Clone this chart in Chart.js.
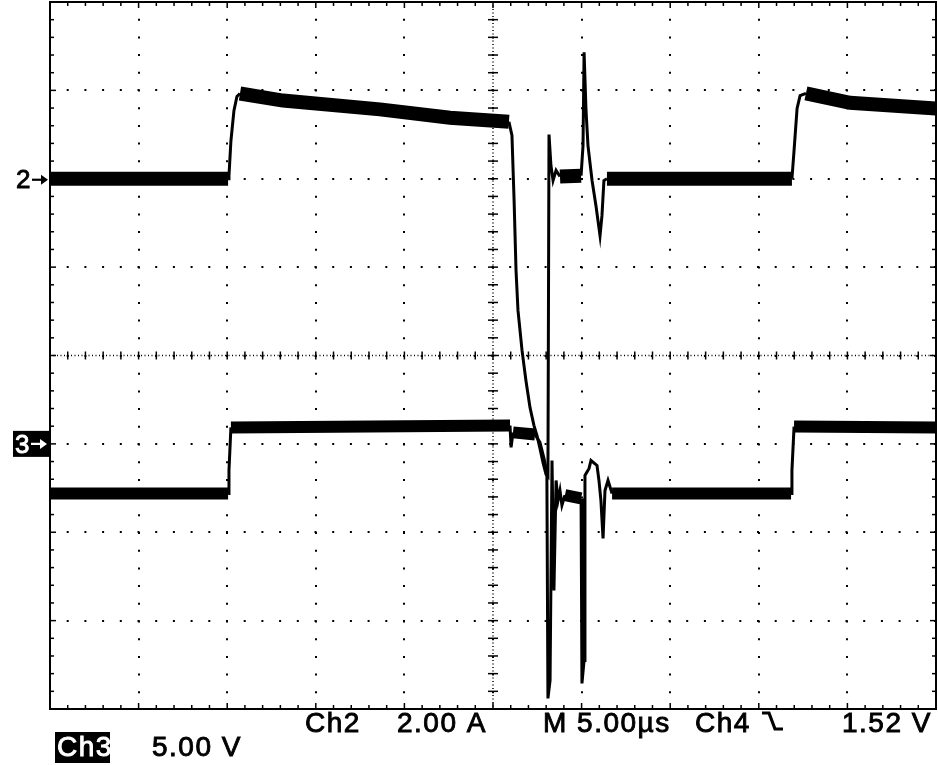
<!DOCTYPE html>
<html>
<head>
<meta charset="utf-8">
<script src="https://cdn.jsdelivr.net/npm/chart.js@4/dist/chart.umd.min.js"></script>
<style>
  html, body { margin: 0; padding: 0; background: #fff; }
  #wrap { position: relative; width: 938px; height: 765px; }
</style>
</head>
<body>
<div id="wrap"><canvas id="scope" width="938" height="765"></canvas></div>
<script>
// Ch2: current probe, 2.00 A/div (time in µs, 5 µs/div)
const ch2Time = [0, 10.05, 10.10, 10.21, 10.38, 10.55, 10.72, 13.15, 18.62, 22.57, 25.90,
  26.07, 26.19, 26.30, 26.41, 26.64, 26.86, 27.09, 27.31, 27.48, 27.65, 27.82, 27.99, 28.10,
  28.16, 28.27, 28.39, 28.56, 28.78, 29.97, 30.08, 30.14, 30.25, 30.36, 30.59, 30.81, 31.04,
  31.15, 31.26, 31.43, 41.87, 41.99, 42.16, 42.33, 42.66, 45.15, 50.00];
const ch2Amps = [0, 0, 0.07, 0.86, 1.54, 1.86, 1.93, 1.77, 1.57, 1.38, 1.29,
  0.98, -0.49, -2.08, -2.98, -3.89, -4.57, -5.18, -5.58, -5.81, -6.10, -6.42, -6.69, -6.74,
  1.00, 0.30, -0.04, 0.19, 0.05, 0.07, 0.75, 2.86, 1.54, 0.75, -0.04, -0.61, -1.29,
  -0.83, -0.04, 0, 0, 0.64, 1.59, 1.88, 1.93, 1.72, 1.59];

// Ch3: voltage, 5.00 V/div
const ch3Time = [0, 10.05, 10.10, 10.21, 25.96, 26.02, 26.13, 27.37, 27.65, 27.88, 28.04,
  28.10, 28.22, 28.33, 28.44, 28.56, 28.67, 28.78, 28.89, 29.06, 29.97, 30.02, 30.14, 30.19,
  30.42, 30.53, 30.87, 30.98, 31.09, 31.21, 31.32, 31.49, 31.72, 41.82, 41.87, 41.99, 50.00];
const ch3Volts = [-2.81, -2.81, -1.50, 0.93, 1.04, -0.20, 0.65, 0.53, 0.08, -0.83, -1.62,
  -14.40, -13.38, -0.94, -8.29, -2.07, -3.20, -2.64, -3.48, -2.90, -3.09, -13.55, -12.25, -1.79,
  -1.39, -0.94, -1.22, -2.07, -3.20, -5.35, -2.64, -2.07, -2.81, -2.81, -1.50, 0.98, 0.93];

// Readout text
const readoutTop = ['Ch2', '2.00 A', 'M 5.00µs', 'Ch4', '1.52 V'];
const readoutBottom = ['Ch3', '5.00 V'];
const channelMarks = ['2', '3'];

const FONT = '"Liberation Sans", Arial, sans-serif';

function toPoints(xs, ys) { return xs.map((t, i) => ({ x: t, y: ys[i] })); }

// flat stretches carry the noise band, fast edges are thin
function traceWidth(thick) {
  return ctx => {
    const dx = Math.abs(ctx.p1.x - ctx.p0.x);
    const dy = Math.abs(ctx.p1.y - ctx.p0.y);
    return (dx > 6 && dy / dx < 0.35) ? thick : 3;
  };
}

function line(ctx, x1, y1, x2, y2) {
  ctx.beginPath(); ctx.moveTo(x1, y1); ctx.lineTo(x2, y2); ctx.stroke();
}

// slightly heavier screen lettering
function heavyText(ctx, s, x, y, color) {
  ctx.fillStyle = color; ctx.strokeStyle = color; ctx.lineWidth = 0.9;
  ctx.fillText(s, x, y); ctx.strokeText(s, x, y);
}

function arrow(ctx, x1, x2, y, color) {
  ctx.save();
  ctx.strokeStyle = color; ctx.fillStyle = color; ctx.lineWidth = 2.2;
  line(ctx, x1, y, x2 - 4, y);
  ctx.beginPath();
  ctx.moveTo(x2, y); ctx.lineTo(x2 - 7, y - 5); ctx.lineTo(x2 - 7, y + 5); ctx.closePath();
  ctx.fill();
  ctx.restore();
}

const graticule = {
  id: 'graticule',
  beforeDatasetsDraw(chart) {
    const { ctx, chartArea: a, scales: { x, y } } = chart;
    const cx = x.getPixelForValue(25), cy = y.getPixelForValue(0);
    ctx.save();
    ctx.strokeStyle = '#000';
    ctx.lineWidth = 1.5;
    // centre cross, finely dotted
    ctx.setLineDash([1, 2.5]);
    line(ctx, a.left, cy, a.right, cy);
    line(ctx, cx, a.top, cx, a.bottom);
    ctx.setLineDash([]);
    // minor ticks every 1/5 division along the frame and the centre cross
    for (let i = 0; i <= 50; i++) {
      const px = x.getPixelForValue(i);
      const len = i % 5 === 0 ? 6 : 4;
      line(ctx, px, a.top, px, a.top + len);
      line(ctx, px, a.bottom - len, px, a.bottom);
      line(ctx, px, cy - 4, px, cy + 4);
    }
    for (let i = 0; i <= 40; i++) {
      const py = y.getPixelForValue(-4 + i * 0.2);
      const len = i % 5 === 0 ? 6 : 4;
      line(ctx, a.left, py, a.left + len, py);
      line(ctx, a.right - len, py, a.right, py);
      line(ctx, cx - 5, py, cx + 5, py);
    }
    ctx.restore();
  },
  afterDatasetsDraw(chart) {
    const { ctx, chartArea: a } = chart;
    ctx.save();
    ctx.strokeStyle = '#000';
    ctx.lineWidth = 2;
    ctx.strokeRect(a.left, a.top, a.right - a.left, a.bottom - a.top);
    ctx.restore();
  },
  afterDraw(chart) {
    const { ctx, scales: { yA, yV } } = chart;
    ctx.save();
    ctx.textBaseline = 'alphabetic';
    ctx.textAlign = 'left';

    // channel ground markers
    const g2 = yA.getPixelForValue(0);
    ctx.font = '26px ' + FONT;
    heavyText(ctx, channelMarks[0], 16, g2 + 9, '#000');
    arrow(ctx, 32, 48, g2 + 1, '#000');

    const g3 = yV.getPixelForValue(0);
    ctx.fillStyle = '#000';
    ctx.fillRect(13, g3 - 13, 37, 26);
    heavyText(ctx, channelMarks[1], 15, g3 + 9, '#fff');
    arrow(ctx, 31, 47, g3, '#fff');

    // readout line
    ctx.font = '28px ' + FONT;
    ctx.letterSpacing = '1.5px';
    const topX = [305, 397, 543, 695, 842];
    readoutTop.forEach((s, i) => heavyText(ctx, s, topX[i], 732, '#000'));

    // Ch4 falling-edge trigger symbol
    ctx.lineWidth = 3.2;
    ctx.strokeStyle = '#000';
    ctx.beginPath();
    ctx.moveTo(762, 713); ctx.lineTo(769, 713); ctx.lineTo(775, 729); ctx.lineTo(783, 729);
    ctx.stroke();

    ctx.fillStyle = '#000';
    ctx.fillRect(55, 732, 55, 31);
    heavyText(ctx, readoutBottom[0], 57, 756, '#fff');
    heavyText(ctx, readoutBottom[1], 152, 756, '#000');
    ctx.restore();
  }
};

const gridStyle = { color: '#000', lineWidth: 2, drawTicks: false };
const dotted = { display: false, dash: [2, 15.7], dashOffset: 1 };

new Chart(document.getElementById('scope'), {
  type: 'line',
  data: {
    datasets: [
      {
        label: 'Ch2',
        data: toPoints(ch2Time, ch2Amps),
        yAxisID: 'yA',
        borderColor: '#000',
        borderWidth: 3,
        segment: { borderWidth: traceWidth(14) },
        pointRadius: 0,
        tension: 0
      },
      {
        label: 'Ch3',
        data: toPoints(ch3Time, ch3Volts),
        yAxisID: 'yV',
        borderColor: '#000',
        borderWidth: 3,
        segment: { borderWidth: traceWidth(12) },
        pointRadius: 0,
        tension: 0
      }
    ]
  },
  options: {
    responsive: false,
    animation: false,
    devicePixelRatio: 1,
    layout: { padding: { left: 50, top: 2, right: 2, bottom: 56 } },
    plugins: { legend: { display: false }, tooltip: { enabled: false } },
    scales: {
      x: {
        type: 'linear', min: 0, max: 50,
        ticks: { display: false, stepSize: 5 },
        grid: gridStyle, border: dotted
      },
      y: {
        type: 'linear', min: -4, max: 4,
        ticks: { display: false, stepSize: 1 },
        grid: gridStyle, border: dotted
      },
      yA: { type: 'linear', display: false, min: -12, max: 4 },
      yV: { type: 'linear', display: false, min: -15, max: 25 }
    }
  },
  plugins: [graticule]
});
</script>
</body>
</html>
